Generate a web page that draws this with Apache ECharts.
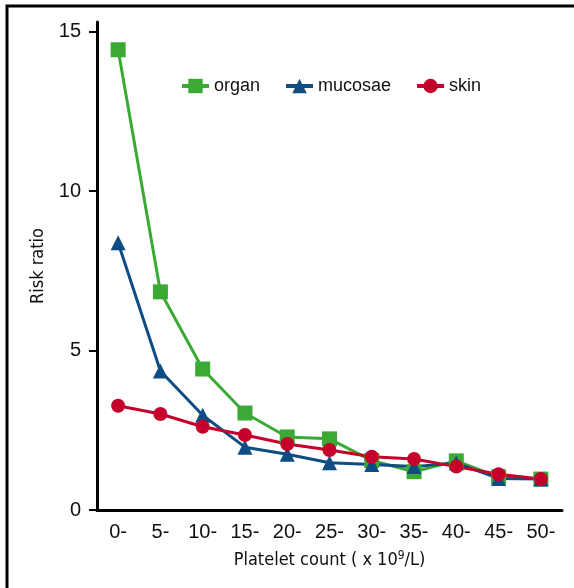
<!DOCTYPE html>
<html>
<head>
<meta charset="utf-8">
<script src="https://cdn.jsdelivr.net/npm/echarts@6/dist/echarts.min.js"></script>
<style>
  html, body { margin: 0; padding: 0; background: #fff; }
  #chart { width: 574px; height: 588px; }
</style>
</head>
<body>
<div id="chart"></div>
<script>
// Platelet count bands (x 10^9/L)
const categories = ['0-', '5-', '10-', '15-', '20-', '25-', '30-', '35-', '40-', '45-', '50-'];

// Risk ratio of bleeding by site
const organ   = [14.43, 6.84, 4.42, 3.04, 2.29, 2.23, 1.55, 1.2, 1.54, 1.04, 0.97];
const mucosae = [8.38, 4.36, 2.97, 1.97, 1.75, 1.48, 1.43, 1.36, 1.47, 0.99, 0.97];
const skin    = [3.27, 3.01, 2.61, 2.35, 2.07, 1.88, 1.67, 1.60, 1.36, 1.12, 0.97];

const yTicks = [0, 5, 10, 15];

const chart = echarts.init(document.getElementById('chart'));

const sansFont = '"Liberation Sans", Arial, Helvetica, sans-serif';
const narrowFont = '"DejaVu Sans Condensed", sans-serif';

function lineSeries(name, data, color, symbol, size) {
  return {
    name: name,
    type: 'line',
    data: data,
    symbol: symbol,
    symbolSize: size,
    lineStyle: { color: color, width: 3 },
    itemStyle: { color: color },
    emphasis: { disabled: true },
    animation: false
  };
}

chart.setOption({
  animation: false,
  backgroundColor: '#fff',
  graphic: [{
    type: 'rect',
    shape: { x: 7, y: 6, width: 600, height: 620 },
    style: { fill: 'none', stroke: '#000', lineWidth: 3 },
    silent: true
  }],
  grid: { left: 97, right: 12, top: 22, bottom: 78 },
  legend: {
    left: 175,
    top: 72,
    itemWidth: 27,
    itemHeight: 18,
    itemGap: 24,
    lineStyle: { width: 4 },
    textStyle: { fontFamily: sansFont, fontSize: 18, color: '#111' },
    data: ['organ', 'mucosae', 'skin']
  },
  xAxis: {
    type: 'category',
    data: categories,
    boundaryGap: true,
    axisLine: { lineStyle: { color: '#000', width: 3 } },
    axisTick: { show: false },
    axisLabel: { color: '#111', fontFamily: sansFont, fontSize: 20, margin: 12 },
    name: 'Platelet count ( x 10{sup|9}/L)',
    nameLocation: 'middle',
    nameGap: 40,
    nameTextStyle: {
      fontFamily: narrowFont, fontSize: 18, color: '#111',
      rich: {
        sup: { fontFamily: narrowFont, fontSize: 12, color: '#111', verticalAlign: 'top', padding: [0, 0, 8, 0] }
      }
    }
  },
  yAxis: {
    type: 'value',
    min: 0,
    max: 15.3,
    splitLine: { show: false },
    axisLine: { show: true, lineStyle: { color: '#000', width: 3 } },
    axisTick: { show: true, length: 8, customValues: yTicks, lineStyle: { color: '#000', width: 2 } },
    axisLabel: { customValues: yTicks, color: '#111', fontFamily: sansFont, fontSize: 20, margin: 16 },
    name: 'Risk ratio',
    nameLocation: 'middle',
    nameGap: 50,
    nameTextStyle: { fontFamily: narrowFont, fontSize: 18, color: '#111' }
  },
  series: [
    lineSeries('organ', organ, '#3aaa35', 'rect', 15),
    lineSeries('mucosae', mucosae, '#0f4c81', 'triangle', 15),
    lineSeries('skin', skin, '#c4002b', 'circle', 14)
  ]
});
</script>
</body>
</html>
